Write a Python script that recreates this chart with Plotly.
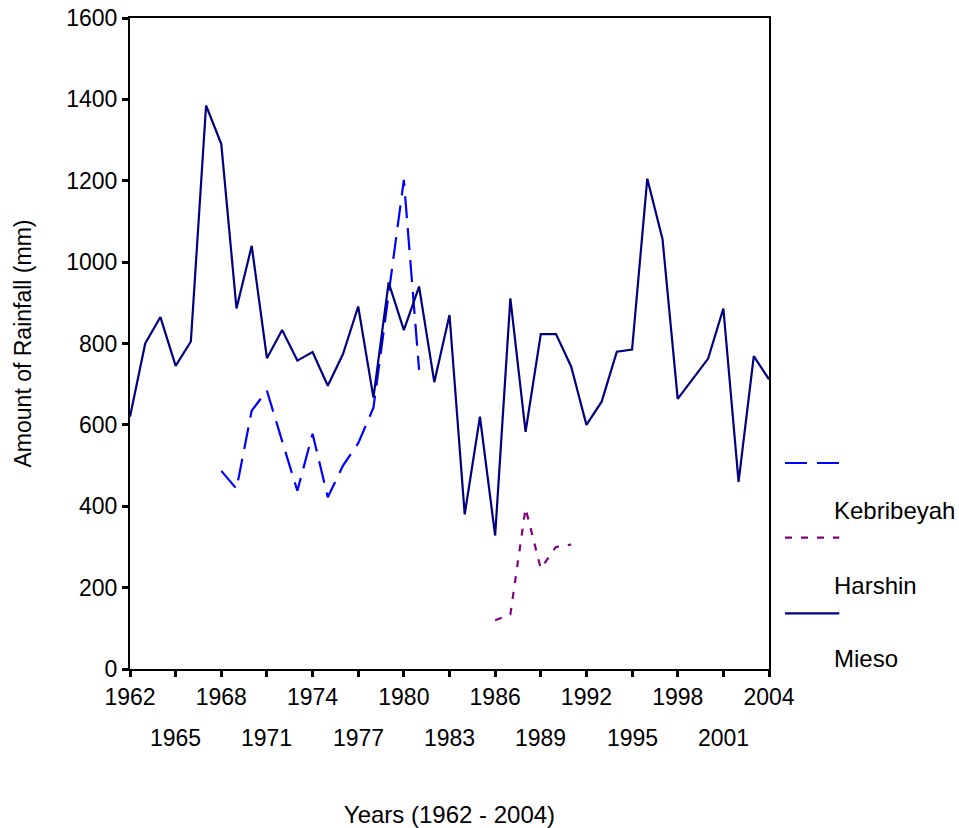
import plotly.graph_objects as go

# ---- data ----
mieso_years = list(range(1962, 2005))
mieso = [620, 800, 865, 745, 805, 1385, 1290, 886, 1040, 764, 833, 758, 779, 696,
         774, 891, 667, 950, 833, 940, 705, 870, 380, 620, 328, 911, 583, 823, 823,
         743, 600, 657, 780, 785, 1205, 1057, 664, 714, 763, 886, 460, 769, 712]

kebri_years = list(range(1968, 1982))
kebribeyah = [487, 443, 635, 684, 560, 438, 578, 422, 500, 555, 642, 925, 1202, 735]

harshin_years = list(range(1986, 1992))
harshin = [120, 134, 395, 247, 300, 306]

tick_years = list(range(1962, 2005, 3))
row1_labels = [str(y) if i % 2 == 0 else "" for i, y in enumerate(tick_years)]
row2_years = [y for i, y in enumerate(tick_years) if i % 2 == 1]
y_ticks = list(range(0, 1601, 200))

series_names = ["Kebribeyah", "Harshin", "Mieso"]
colors = {"Kebribeyah": "#0000FF", "Harshin": "#800080", "Mieso": "#000080"}
dashes = {"Kebribeyah": "22px,10px", "Harshin": "7px,9px", "Mieso": "solid"}

FONT = "Liberation Sans, Arial, sans-serif"
FS = 23
FS_BIG = 24

fig = go.Figure()
fig.add_trace(go.Scatter(x=kebri_years, y=kebribeyah, mode="lines", name="Kebribeyah",
                         line=dict(color=colors["Kebribeyah"], width=2.2, dash=dashes["Kebribeyah"])))
fig.add_trace(go.Scatter(x=harshin_years, y=harshin, mode="lines", name="Harshin",
                         line=dict(color=colors["Harshin"], width=2.2, dash=dashes["Harshin"])))
fig.add_trace(go.Scatter(x=mieso_years, y=mieso, mode="lines", name="Mieso",
                         line=dict(color=colors["Mieso"], width=2.2, dash=dashes["Mieso"])))

annotations = []
for y in row2_years:
    annotations.append(dict(x=y, y=0, xref="x", yref="paper", text=str(y), showarrow=False,
                            yanchor="top", xanchor="center", yshift=-54,
                            font=dict(family=FONT, size=FS, color="black")))

# manual legend (sample line above, label below-right, as in the reference)
sample_y = [0.3164, 0.2017, 0.0855]
label_y = [0.2442, 0.128, 0.0164]
shapes = []
for name, sy, ly in zip(series_names, sample_y, label_y):
    shapes.append(dict(type="line", xref="paper", yref="paper", x0=1.025, x1=1.11, y0=sy, y1=sy,
                       line=dict(color=colors[name], width=2.2, dash=dashes[name])))
    annotations.append(dict(x=1.0985, y=ly, xref="paper", yref="paper", text=name, showarrow=False,
                            xanchor="left", yanchor="middle",
                            font=dict(family=FONT, size=FS_BIG, color="black")))

fig.update_layout(
    width=959, height=828,
    margin=dict(l=130, r=190, t=18, b=159),
    paper_bgcolor="white", plot_bgcolor="white",
    showlegend=False,
    font=dict(family=FONT, size=FS, color="black"),
    annotations=annotations,
    shapes=shapes,
)
fig.update_xaxes(range=[1962, 2004], tickvals=tick_years, ticktext=row1_labels,
                 ticks="outside", ticklen=6, tickwidth=3, tickcolor="black",
                 showline=True, linecolor="black", linewidth=2, mirror=True,
                 showgrid=False, zeroline=False, automargin=False,
                 title=dict(text="Years (1962 - 2004)", standoff=98,
                            font=dict(family=FONT, size=FS_BIG)))
fig.update_yaxes(range=[0, 1600], tickvals=y_ticks,
                 ticks="outside", ticklen=6, tickwidth=3, tickcolor="black",
                 showline=True, linecolor="black", linewidth=2, mirror=True,
                 showgrid=False, zeroline=False, automargin=False,
                 title=dict(text="Amount of Rainfall (mm)", standoff=28,
                            font=dict(family=FONT, size=FS)))

fig.write_html("out.html", config={"displayModeBar": False},
               post_script="document.body.style.margin='0';")
